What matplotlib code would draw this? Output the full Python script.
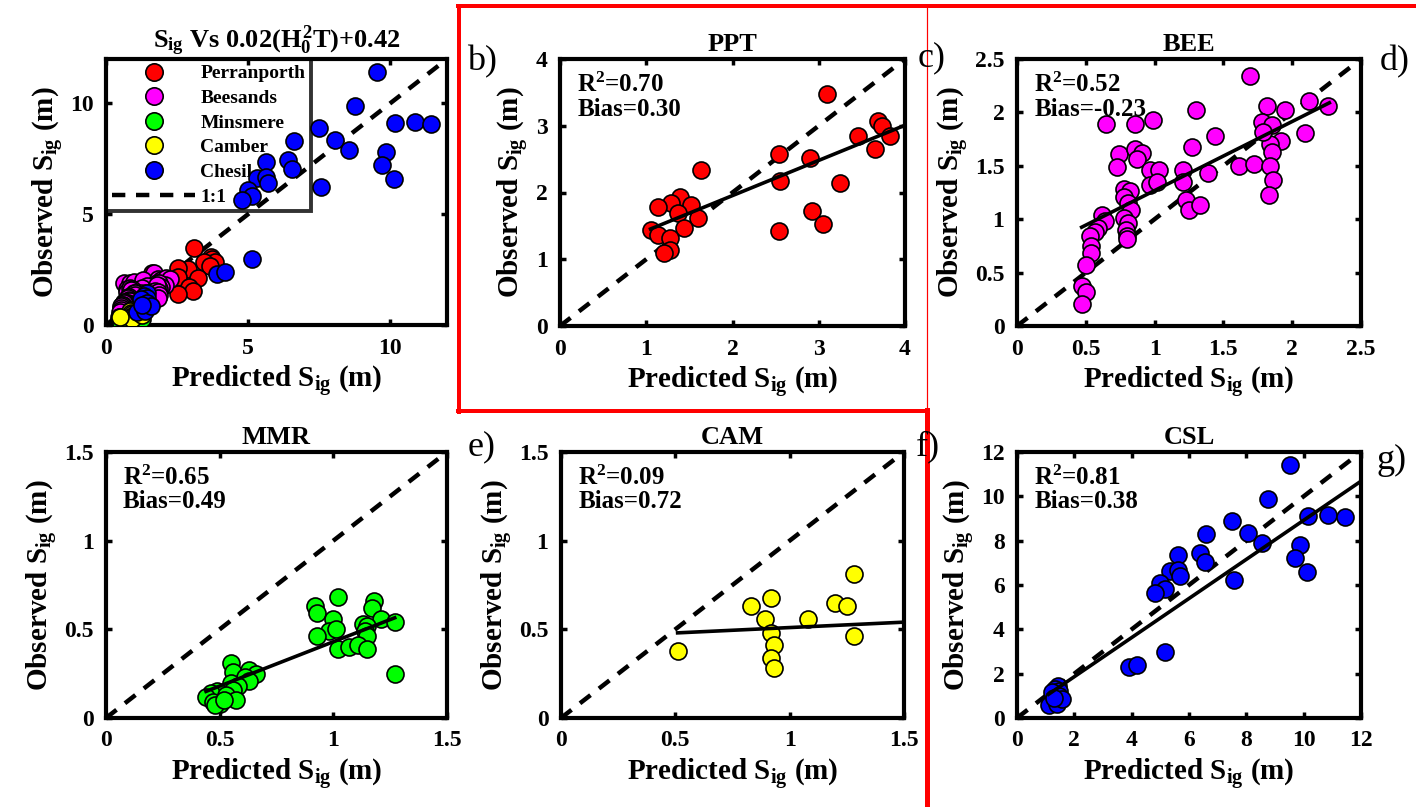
import numpy as np
import matplotlib
matplotlib.use("Agg")
import matplotlib.pyplot as plt
from matplotlib.lines import Line2D

plt.rcParams["font.family"] = "Liberation Serif"
plt.rcParams["font.weight"] = "bold"
plt.rcParams["axes.labelweight"] = "bold"
plt.rcParams["axes.titleweight"] = "bold"
plt.rcParams["mathtext.fontset"] = "custom"
plt.rcParams["mathtext.rm"] = "Liberation Serif:bold"
plt.rcParams["mathtext.it"] = "Liberation Serif:bold"
plt.rcParams["mathtext.bf"] = "Liberation Serif:bold"

# ---- data ----
ppt_pred = [3.09, 3.69, 3.73, 3.83, 3.46, 3.65, 2.90, 2.54, 2.55, 3.25, 2.92, 3.05, 2.54,
            1.63, 1.39, 1.29, 1.52, 1.37, 1.60, 1.14, 1.44, 1.05, 1.14, 1.28, 1.28, 1.21]
ppt_obs = [3.47, 3.07, 3.00, 2.84, 2.85, 2.65, 2.52, 2.57, 2.17, 2.14, 1.72, 1.53, 1.42,
           2.34, 1.94, 1.84, 1.82, 1.69, 1.62, 1.79, 1.47, 1.44, 1.37, 1.32, 1.14, 1.09]

bee_pred = [1.69, 0.65, 0.86, 0.99, 1.30, 1.82, 1.95, 2.12, 2.26, 2.09, 1.78, 1.85, 1.44,
            1.27, 1.92, 1.84, 1.85, 1.79, 1.61, 1.72, 1.84, 1.86, 1.83, 1.39, 1.21, 1.21,
            1.23, 1.25, 1.33, 0.74, 0.73, 0.86, 0.91, 0.87, 0.97, 1.03, 0.97, 1.02, 0.78,
            0.82, 0.78, 0.81, 0.83, 0.78, 0.81, 0.79, 0.80, 0.80, 0.62, 0.64, 0.59, 0.57,
            0.53, 0.54, 0.54, 0.50, 0.47, 0.50, 0.47]
bee_obs = [2.34, 1.89, 1.89, 1.93, 2.02, 2.06, 2.02, 2.11, 2.06, 1.81, 1.91, 1.88, 1.78,
           1.68, 1.73, 1.70, 1.63, 1.82, 1.50, 1.52, 1.50, 1.37, 1.23, 1.43, 1.46, 1.35,
           1.18, 1.09, 1.13, 1.61, 1.49, 1.66, 1.62, 1.56, 1.46, 1.46, 1.32, 1.35, 1.28,
           1.26, 1.21, 1.15, 1.09, 1.01, 0.96, 0.90, 0.84, 0.81, 1.04, 0.98, 0.92, 0.88,
           0.84, 0.75, 0.68, 0.57, 0.37, 0.32, 0.21]

mmr_pred = [1.02, 0.92, 0.93, 1.00, 1.18, 1.17, 1.21, 1.27, 1.13, 1.15, 1.14, 1.15, 0.98,
            1.01, 0.93, 1.02, 1.07, 1.11, 1.15, 1.27, 0.55, 0.56, 0.63, 0.66, 0.61, 0.63,
            0.55, 0.58, 0.56, 0.49, 0.46, 0.44, 0.53, 0.57, 0.47, 0.50, 0.48, 0.52]
mmr_obs = [0.68, 0.63, 0.59, 0.56, 0.66, 0.62, 0.56, 0.54, 0.53, 0.52, 0.49, 0.46, 0.49,
           0.50, 0.46, 0.39, 0.40, 0.41, 0.39, 0.25, 0.31, 0.26, 0.27, 0.25, 0.23, 0.21,
           0.20, 0.18, 0.16, 0.15, 0.14, 0.12, 0.13, 0.10, 0.09, 0.08, 0.075, 0.10]

cam_pred = [1.28, 0.92, 0.83, 1.20, 1.25, 0.89, 1.08, 0.92, 0.93, 0.92, 0.93, 1.28, 0.51]
cam_obs = [0.81, 0.675, 0.63, 0.65, 0.63, 0.56, 0.56, 0.48, 0.41, 0.34, 0.28, 0.46, 0.38]

csl_pred = [9.52, 8.75, 10.16, 10.86, 11.44, 7.49, 8.07, 8.54, 6.60, 6.39, 6.56, 9.87,
            9.70, 10.13, 7.58, 5.63, 5.32, 5.63, 5.69, 4.99, 5.15, 4.80, 5.15, 3.89, 4.18,
            1.43, 1.34, 1.45, 1.22, 1.45, 1.10, 1.39, 1.57, 1.28]
csl_obs = [11.4, 9.86, 9.11, 9.15, 9.05, 8.88, 8.36, 7.88, 8.28, 7.46, 7.05, 7.80,
           7.23, 6.60, 6.23, 7.35, 6.63, 6.68, 6.41, 6.08, 5.81, 5.66, 3.00, 2.30, 2.37,
           1.46, 1.31, 1.20, 1.16, 1.00, 0.60, 0.65, 0.86, 0.90]

site_names = ["Perranporth", "Beesands", "Minsmere", "Camber", "Chesil"]
site_codes = ["PPT", "BEE", "MMR", "CAM", "CSL"]
site_colors = ["#ff0000", "#ff00ff", "#00ff00", "#ffff00", "#0000ff"]
r2_values = [0.70, 0.52, 0.65, 0.09, 0.81]
bias_values = ["0.30", "-0.23", "0.49", "0.72", "0.38"]
fit_slope = [0.527, 0.647, 0.50, 0.061, 0.882]
fit_intercept = [0.90, 0.621, -0.07, 0.449, 0.10]
fit_xend = [4.0, 2.27, 1.27, 1.5, 12.0]
axis_max = [4, 2.5, 1.5, 1.5, 12]
axis_ticks = [[0, 1, 2, 3, 4], [0, 0.5, 1, 1.5, 2, 2.5], [0, 0.5, 1, 1.5],
              [0, 0.5, 1, 1.5], [0, 2, 4, 6, 8, 10, 12]]

preds = [ppt_pred, bee_pred, mmr_pred, cam_pred, csl_pred]
obss = [ppt_obs, bee_obs, mmr_obs, cam_obs, csl_obs]

W, H = 1416, 807
fig = plt.figure(figsize=(W / 100, H / 100), dpi=100)


def px_axes(left, top, right, bottom):
    return fig.add_axes([left / W, 1 - bottom / H, (right - left) / W, (bottom - top) / H])


def style(ax, lim, ticks):
    ax.set_xlim(0, lim)
    ax.set_ylim(0, lim)
    labels = ["%g" % t for t in ticks]
    ax.set_xticks(ticks, labels=labels, fontweight="bold", fontsize=17)
    ax.set_yticks(ticks, labels=labels, fontweight="bold", fontsize=17)
    ax.tick_params(direction="in", length=4, width=2.5, top=True, right=True, pad=9)
    for s in ax.spines.values():
        s.set_linewidth(3)
    ax.set_xlabel(r"Predicted $S_{ig}$ (m)", fontsize=21, labelpad=4)
    ax.set_ylabel(r"Observed $S_{ig}$ (m)", fontsize=21, labelpad=3)


boxes = [(106, 59, 447, 325), (560, 59, 905, 326), (1017, 59, 1361, 326),
         (106, 452, 447, 718), (561, 452, 904, 718), (1017, 452, 1361, 718)]

# ---- panel a: all sites ----
ax = px_axes(*boxes[0])
style(ax, 12, [0, 5, 10])
ax.plot([0, 12], [0, 12], "k", ls=(0, (3, 2.4)), lw=3.2, zorder=2)
for p, o, c in zip(preds, obss, site_colors):
    ax.scatter(p, o, s=150, c=c, edgecolors="k", linewidths=1.2, zorder=3)
handles = [Line2D([], [], marker="o", ls="none", markersize=12.5, markerfacecolor=c,
                  markeredgecolor="k", markeredgewidth=1.2) for c in site_colors]
handles.append(Line2D([], [], color="k", ls=(0, (3, 2.4)), lw=3.2))
leg = ax.legend(handles, site_names + ["1:1"], loc="upper left", borderaxespad=0,
                fontsize=14, handlelength=4.3, handletextpad=0.25, labelspacing=0.36,
                borderpad=0.3, fancybox=False, edgecolor="k")
leg.get_frame().set_linewidth(2.8)
leg.get_frame().set_facecolor("none")
leg.set_zorder(1)
ax.set_title(r"$S_{ig}$ Vs 0.02($H_0^2$T)+0.42", fontsize=19, pad=8)

# ---- site panels ----
for i in range(5):
    ax = px_axes(*boxes[i + 1])
    lim = axis_max[i]
    style(ax, lim, axis_ticks[i])
    ax.plot([0, lim], [0, lim], "k", ls=(0, (3, 2.4)), lw=3.2, zorder=2)
    ax.scatter(preds[i], obss[i], s=150, c=site_colors[i], edgecolors="k",
               linewidths=1.2, zorder=3)
    fx = np.array([min(preds[i]), fit_xend[i]])
    ax.plot(fx, fit_slope[i] * fx + fit_intercept[i], "k", lw=2.6, zorder=4)
    ax.text(0.05, 0.95, "R$^2$=%.2f\nBias=%s" % (r2_values[i], bias_values[i]),
            transform=ax.transAxes, ha="left", va="top", fontsize=18, linespacing=1.05)
    ax.set_title(site_codes[i], fontsize=19, pad=6)

# ---- panel letters ----
letters = [("b)", 482, 62), ("c)", 932, 58), ("d)", 1395, 62), ("e)", 482, 447),
           ("f)", 928, 447), ("g)", 1392, 460)]
for t, x, y in letters:
    fig.text(x / W, 1 - y / H, t, fontsize=26, fontweight="normal", ha="center", va="center")

# ---- red frame ----
red_segments = [((458, 1416), (6, 6), 4), ((459, 459), (6, 412), 4),
                ((458, 928), (411, 411), 4), ((927, 927), (410, 807), 5),
                ((927, 927), (6, 410), 1.2)]
for xs, ys, lw in red_segments:
    fig.add_artist(Line2D([x / W for x in xs], [1 - y / H for y in ys], color="#ff0000",
                          lw=lw * 0.72, transform=fig.transFigure))

fig.savefig("out.png", dpi=100)
